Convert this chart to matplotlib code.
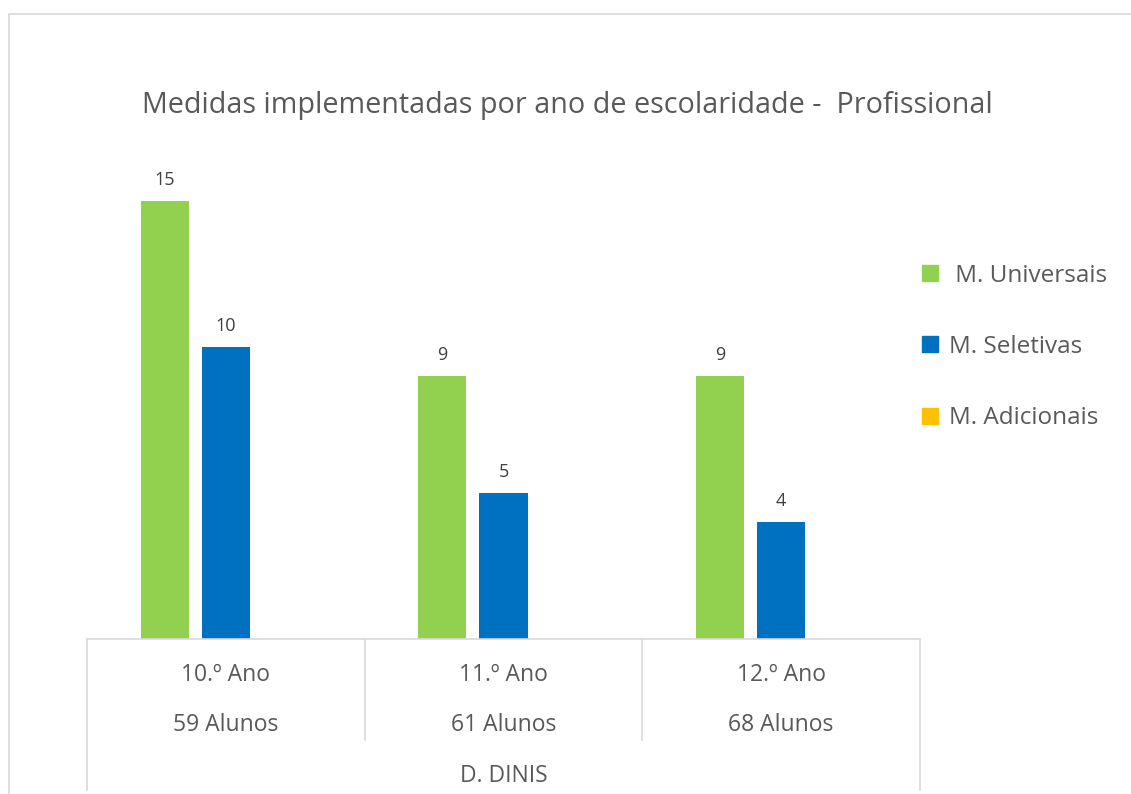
import matplotlib
matplotlib.use("Agg")
import matplotlib.pyplot as plt
from matplotlib.patches import Rectangle
from matplotlib.lines import Line2D
import matplotlib.transforms as mtransforms
import numpy as np

title = "Medidas implementadas por ano de escolaridade -  Profissional"
categories = ["10.º Ano", "11.º Ano", "12.º Ano"]
students = ["59 Alunos", "61 Alunos", "68 Alunos"]
group_label = "D. DINIS"
series_names = [" M. Universais", "M. Seletivas", "M. Adicionais"]
universais = [15, 9, 9]
seletivas = [10, 5, 4]
adicionais = [0, 0, 0]
colors = ["#92d050", "#0070c0", "#ffc000"]

plt.rcParams['font.family'] = ['Open Sans', 'DejaVu Sans']
W, H = 1131, 794
fig = plt.figure(figsize=(W/100, H/100), dpi=100)

# outer chart border
fig.patches.append(Rectangle((9/W, -0.5), 2, 1 - 14/H + 0.5, transform=fig.transFigure,
                             fill=False, edgecolor="#d9d9d9", linewidth=1.2, zorder=0))

ax_l, ax_r = 87/W, 920/W
ax_b, ax_t = 1 - 639/H, 1 - 172/H
ax = fig.add_axes([ax_l, ax_b, ax_r - ax_l, ax_t - ax_b])
ax.set_xlim(-0.5, 2.5)
ax.set_ylim(0, 16)
for s in ["top", "right", "left"]:
    ax.spines[s].set_visible(False)
ax.spines["bottom"].set_color("#d9d9d9")
ax.spines["bottom"].set_linewidth(1.2)
ax.set_yticks([])
ax.set_xticks([])

x = np.arange(len(categories))
slot = 0.22
bw = 0.173
data = [universais, seletivas, adicionais]
for j, (vals, c, name) in enumerate(zip(data, colors, series_names)):
    bars = ax.bar(x + (j - 1) * slot, vals, width=bw, color=c, label=name)
    for xi, v in zip(x + (j - 1) * slot, vals):
        if v > 0:
            ax.annotate(str(v), (xi, v), xytext=(0, 9), textcoords="offset points",
                        ha="center", va="bottom", fontsize=13, color="#404040")

trans = mtransforms.blended_transform_factory(ax.transData, ax.transAxes)
ah = 639 - 172
def yfrac(py):
    return -(py - 639) / ah

# category separators
for i, xs in enumerate([-0.5, 0.5, 1.5, 2.5]):
    bottom = yfrac(790) if i in (0, 3) else yfrac(740)
    ax.add_line(Line2D([xs, xs], [0, bottom], transform=trans, color="#d9d9d9",
                       linewidth=1.2, clip_on=False))

for xi, cat, st in zip(x, categories, students):
    ax.text(xi, yfrac(675), cat, transform=trans, ha="center", va="center",
            fontsize=16.5, color="#595959")
    ax.text(xi, yfrac(725), st, transform=trans, ha="center", va="center",
            fontsize=16.5, color="#595959")
ax.text(1, yfrac(776), group_label, transform=trans, ha="center", va="center",
        fontsize=16.5, color="#595959")

fig.text(567/W, 1 - 106/H, title, ha="center", va="center", fontsize=20.7, color="#595959")

handles = [Line2D([], [], marker="s", linestyle="none", markersize=11,
                  markerfacecolor=c, markeredgecolor=c) for c in colors]
fig.legend(handles, series_names, loc="center left", bbox_to_anchor=(896/W, 1 - 347/H),
           frameon=False, fontsize=17.5, labelcolor="#595959", handletextpad=0.3,
           labelspacing=1.95, handlelength=1.0)

fig.savefig("out.png", dpi=100)
